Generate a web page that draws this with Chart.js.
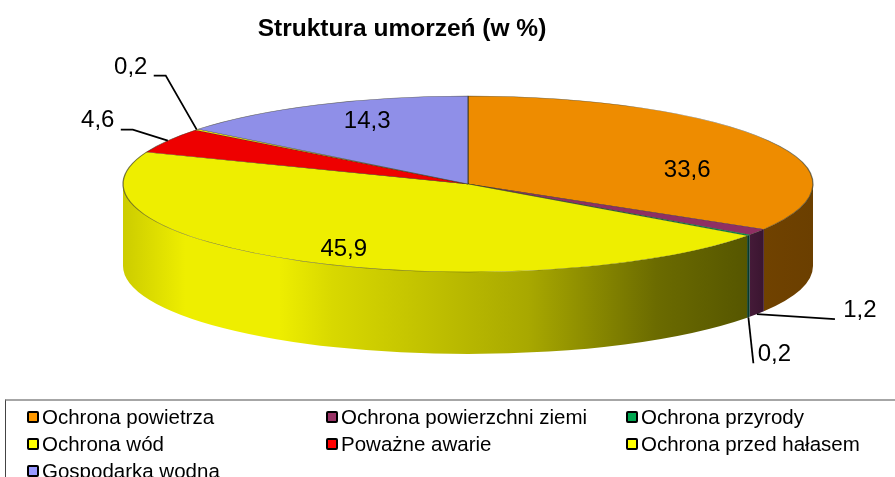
<!DOCTYPE html>
<html lang="pl"><head><meta charset="utf-8">
<script src="https://cdn.jsdelivr.net/npm/chart.js@4"></script>
<style>
html,body{margin:0;padding:0;background:#fff;overflow:hidden}
#wrap{position:relative;width:895px;height:477px;overflow:hidden;font-family:"Liberation Sans",Arial,sans-serif;color:#000}
canvas{position:absolute;left:0;top:0}
#legend{position:absolute;left:5px;top:399px;width:900px;height:90px;border-top:2px solid #a6a6a6;border-left:1px solid #444;box-sizing:border-box}
.it{position:absolute;font-size:20.5px;line-height:27px;white-space:nowrap}
.it i{position:absolute;left:-15px;top:8px;width:8px;height:8px;border:2px solid #000;border-radius:2px}
</style></head><body>
<div id="wrap"><canvas id="c" width="895" height="477"></canvas><div id="legend"></div></div>
<script>
const categories=["Ochrona powietrza","Ochrona powierzchni ziemi","Ochrona przyrody","Ochrona wód","Poważne awarie","Ochrona przed hałasem","Gospodarka wodna"];
const values=[33.6,1.2,0.2,45.9,4.6,0.2,14.3];
const valueLabels=["33,6","1,2","0,2","45,9","4,6","0,2","14,3"];
const topColors=["#ee8c00","#8f2f63","#00a050","#eeee00","#ee0000","#eeee00","#8f8fe8"];
const legendColors=["#ff9900","#993366","#00a650","#ffff00","#ff0000","#ffff00","#9999ff"];
const wallLeft=["#704200","#451a38","#063a2a","#cccc00","#7a0000","#f0f000","#4a4a80"];
const wallRight=["#6b3f00","#3a1530","#063a2a","#565600","#7a0000","#565600","#4a4a80"];
const G={cx:468,cy:184,rx:345,ry:88,depth:82};
const labelLayout=[
 {dx:-81,dy:30,inside:true},
 {side:'bottom',path:[[78,5]],tx:103,ty:-4},
 {side:'bottom',path:[[5,46]],tx:26,ty:37},
 {dx:41,dy:-12,inside:true},
 {side:'top',path:[[-35,-11],[-47,-11]],tx:-70,ty:-20},
 {side:'top',path:[[-31,-54],[-43,-54]],tx:-66,ty:-62},
 {dx:49,dy:17,inside:true}
];
const yellowStops=[[.1,'#eeee00'],[.25,'#eeee00'],[.336,'#d8d800'],[.65,'#a8a800'],[.855,'#6b6b00']];
function rim(a){return [G.cx+G.rx*Math.cos(a),G.cy+G.ry*Math.sin(a)];}
const pie3d={id:'pie3d',
 beforeDatasetsDraw(chart){
  const ctx=chart.ctx,arcs=chart.getDatasetMeta(0).data;
  arcs.forEach((arc,i)=>{
   const s=Math.max(arc.startAngle,0),e=Math.min(arc.endAngle,Math.PI);
   const s2=Math.max(arc.startAngle,2*Math.PI),e2=Math.min(arc.endAngle,3*Math.PI);
   [[s,e],[s2,e2]].forEach(([p,q])=>{
    if(q<=p)return;
    const x0=Math.min(rim(p)[0],rim(q)[0]),x1=Math.max(rim(p)[0],rim(q)[0]);
    const gr=ctx.createLinearGradient(x0,0,x1,0);
    gr.addColorStop(0,wallLeft[i]);
    if(i===3)yellowStops.forEach(t=>gr.addColorStop(t[0],t[1]));
    gr.addColorStop(1,wallRight[i]);
    ctx.save();ctx.fillStyle=gr;ctx.beginPath();
    ctx.ellipse(G.cx,G.cy,G.rx,G.ry,0,p,q,false);
    ctx.ellipse(G.cx,G.cy+G.depth,G.rx,G.ry,0,q,p,true);
    ctx.closePath();ctx.fill();ctx.restore();
   });
  });
  const a0=arcs[0];
  ctx.save();
  ctx.translate(G.cx,G.cy);
  ctx.scale(G.rx/a0.outerRadius,G.ry/a0.outerRadius);
  ctx.translate(-a0.x,-a0.y);
 },
 afterDatasetsDraw(chart){
  const ctx=chart.ctx,arcs=chart.getDatasetMeta(0).data;
  ctx.restore();
  ctx.save();
  ctx.font='24px "Liberation Sans",Arial,sans-serif';
  ctx.fillStyle='#000';ctx.strokeStyle='#000';ctx.lineWidth=1.8;
  ctx.textAlign='center';ctx.textBaseline='middle';
  arcs.forEach((arc,i)=>{
   const mid=(arc.startAngle+arc.endAngle)/2,L=labelLayout[i];
   let [x,y]=rim(mid);
   if(L.inside){ctx.fillText(valueLabels[i],x+L.dx,y+L.dy);return;}
   if(L.side==='bottom')y+=G.depth;
   ctx.beginPath();ctx.moveTo(x,y);
   L.path.forEach(p=>ctx.lineTo(x+p[0],y+p[1]));
   ctx.stroke();
   ctx.fillText(valueLabels[i],x+L.tx,y+L.ty);
  });
  ctx.restore();
 }
};
new Chart(document.getElementById('c'),{
 type:'pie',
 data:{labels:categories,datasets:[{data:values,backgroundColor:topColors,borderColor:'rgba(50,50,30,.65)',borderWidth:.8,clip:false}]},
 options:{responsive:false,animation:false,rotation:0,
  layout:{padding:{right:91,top:0,left:0,bottom:0}},
  plugins:{legend:{display:false},tooltip:{enabled:false},
   title:{display:true,text:"Struktura umorzeń (w %)",color:'#000',font:{family:'"Liberation Sans",Arial,sans-serif',size:24.5,weight:'bold'},padding:{top:15,bottom:6}}}},
 plugins:[pie3d]
});
const cols=[41,340,640];
const legend=document.getElementById('legend');
categories.forEach((c,i)=>{
 const d=document.createElement('div');d.className='it';
 d.style.left=(cols[i%3]-5)+'px';d.style.top=(2+Math.floor(i/3)*27)+'px';
 d.textContent=c;
 const b=document.createElement('i');b.style.background=legendColors[i];d.prepend(b);
 legend.appendChild(d);
});
</script></body></html>
